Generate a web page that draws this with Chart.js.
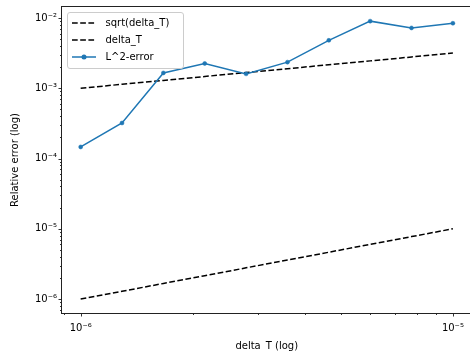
<!DOCTYPE html>
<html>
<head>
<meta charset="utf-8">
<script src="https://cdn.jsdelivr.net/npm/chart.js@4"></script>
<style>
  html, body { margin: 0; padding: 0; overflow: hidden; background: #fff; }
  #wrap { width: 476px; height: 358px; }
</style>
</head>
<body>
<div id="wrap"><canvas id="errChart" width="476" height="358"></canvas></div>
<script>
// delta_T values (log spaced, 1e-6 .. 1e-5)
var deltaT = [1.0e-6, 1.2915e-6, 1.6681e-6, 2.1544e-6, 2.7826e-6, 3.5938e-6, 4.6416e-6, 5.9948e-6, 7.7426e-6, 1.0e-5];
// reference lines
var sqrtDeltaT = [1.0e-3, 1.1365e-3, 1.2915e-3, 1.4678e-3, 1.6681e-3, 1.8957e-3, 2.1544e-3, 2.4484e-3, 2.7826e-3, 3.1623e-3];
var deltaTLine = [1.0e-6, 1.2915e-6, 1.6681e-6, 2.1544e-6, 2.7826e-6, 3.5938e-6, 4.6416e-6, 5.9948e-6, 7.7426e-6, 1.0e-5];
var l2Error = [1.46e-4, 3.2e-4, 1.65e-3, 2.25e-3, 1.6e-3, 2.35e-3, 4.8e-3, 9.0e-3, 7.2e-3, 8.4e-3];

var seriesLabels = ["sqrt(delta_T)", "delta_T", "L^2-error"];

// tick labels
var xMajor = [1e-6, 1e-5];
var xMajorLabels = ["10\u207B\u2076", "10\u207B\u2075"];
var yMajor = [1e-6, 1e-5, 1e-4, 1e-3, 1e-2];
var yMajorLabels = ["10\u207B\u2076", "10\u207B\u2075", "10\u207B\u2074", "10\u207B\u00B3", "10\u207B\u00B2"];

var xRange = [8.91e-7, 1.122e-5];
var yRange = [6.34e-7, 1.43e-2];

function pts(xs, ys) {
    return xs.map(function (x, i) { return { x: x, y: ys[i] }; });
}

function logTicks(min, max) {
    var out = [];
    for (var e = Math.floor(Math.log10(min)); e <= Math.ceil(Math.log10(max)); e++) {
        for (var m = 1; m <= 9; m++) {
            var v = m * Math.pow(10, e);
            if (v >= min && v <= max) out.push({ value: v, major: m === 1 });
        }
    }
    return out;
}

function labelFor(value, majors, labels) {
    for (var i = 0; i < majors.length; i++) {
        if (Math.abs(value / majors[i] - 1) < 1e-6) return labels[i];
    }
    return "";
}

var font = { family: "DejaVu Sans", size: 10 };

// axes box and tick marks, matplotlib style
var axesPlugin = {
    id: "axesBox",
    afterDraw: function (chart) {
        var ctx = chart.ctx, a = chart.chartArea;
        var sx = chart.scales.x, sy = chart.scales.y;
        ctx.save();
        ctx.strokeStyle = "#000";
        ctx.lineWidth = 0.8;
        ctx.beginPath();
        sx.ticks.forEach(function (t) {
            var px = Math.round(sx.getPixelForValue(t.value)) + 0.5;
            ctx.moveTo(px, a.bottom);
            ctx.lineTo(px, a.bottom + (t.major ? 3.5 : 2));
        });
        sy.ticks.forEach(function (t) {
            var py = Math.round(sy.getPixelForValue(t.value)) + 0.5;
            ctx.moveTo(a.left, py);
            ctx.lineTo(a.left - (t.major ? 3.5 : 2), py);
        });
        ctx.stroke();
        ctx.lineWidth = 1;
        ctx.strokeStyle = "#222";
        ctx.strokeRect(Math.round(a.left) - 0.5, Math.round(a.top) - 0.5,
            Math.round(a.right - a.left) + 1, Math.round(a.bottom - a.top) + 1);
        ctx.restore();
    }
};

// legend in upper left corner, matplotlib style
var legendPlugin = {
    id: "mplLegend",
    afterDraw: function (chart) {
        var ctx = chart.ctx, a = chart.chartArea;
        var bx = a.left + 5, by = a.top + 5, bw = 116, bh = 56;
        ctx.save();
        ctx.fillStyle = "rgba(255,255,255,0.8)";
        ctx.strokeStyle = "#cccccc";
        ctx.lineWidth = 1;
        ctx.beginPath();
        ctx.roundRect(bx + 0.5, by + 0.5, bw, bh, 2.5);
        ctx.fill();
        ctx.stroke();
        chart.data.datasets.forEach(function (ds, i) {
            var ry = by + 11 + i * 17;
            ctx.strokeStyle = ds.borderColor;
            ctx.lineWidth = ds.borderWidth;
            ctx.setLineDash(ds.borderDash || []);
            ctx.beginPath();
            ctx.moveTo(bx + 5, ry);
            ctx.lineTo(bx + 29, ry);
            ctx.stroke();
            ctx.setLineDash([]);
            if (ds.pointRadius > 0) {
                ctx.fillStyle = ds.borderColor;
                ctx.beginPath();
                ctx.arc(bx + 17, ry, ds.pointRadius + 0.5, 0, Math.PI * 2);
                ctx.fill();
            }
            ctx.fillStyle = "#000";
            ctx.font = "10px 'DejaVu Sans'";
            ctx.textBaseline = "middle";
            ctx.textAlign = "left";
            ctx.fillText(ds.label, bx + 38.5, ry);
        });
        ctx.restore();
    }
};

var ctx = document.getElementById("errChart").getContext("2d");

var errChart = new Chart(ctx, {
    type: "scatter",
    data: {
        datasets: [
            {
                label: seriesLabels[0],
                data: pts(deltaT, sqrtDeltaT),
                showLine: true,
                borderColor: "#000000",
                borderWidth: 1.5,
                borderDash: [5.7, 2.5],
                pointRadius: 0,
                order: 2,
            },
            {
                label: seriesLabels[1],
                data: pts(deltaT, deltaTLine),
                showLine: true,
                borderColor: "#000000",
                borderWidth: 1.5,
                borderDash: [5.7, 2.5],
                pointRadius: 0,
                order: 1,
            },
            {
                label: seriesLabels[2],
                data: pts(deltaT, l2Error),
                showLine: true,
                borderColor: "#1f77b4",
                backgroundColor: "#1f77b4",
                borderWidth: 1.5,
                pointRadius: 2,
                pointBorderWidth: 0.5,
                order: 0,
            },
        ],
    },
    options: {
        responsive: false,
        animation: false,
        devicePixelRatio: 1,
        layout: { padding: { left: 0, top: 7, right: 2, bottom: 0 } },
        plugins: {
            legend: { display: false },
            tooltip: { enabled: false },
        },
        scales: {
            x: {
                type: "logarithmic",
                min: xRange[0],
                max: xRange[1],
                grid: { display: false, drawTicks: false },
                border: { display: false },
                afterBuildTicks: function (scale) {
                    scale.ticks = logTicks(xRange[0], xRange[1]);
                },
                afterFit: function (scale) {
                    scale.height = 45;
                    scale.paddingLeft = 0;
                    scale.paddingRight = 0;
                },
                ticks: {
                    autoSkip: false,
                    maxRotation: 0,
                    padding: 9,
                    color: "#000",
                    font: font,
                    callback: function (value) {
                        return labelFor(value, xMajor, xMajorLabels);
                    },
                },
                title: {
                    display: true,
                    text: "delta_T (log)",
                    color: "#000",
                    font: font,
                    padding: { top: 0, bottom: 6 },
                },
            },
            y: {
                type: "logarithmic",
                min: yRange[0],
                max: yRange[1],
                grid: { display: false, drawTicks: false },
                border: { display: false },
                afterBuildTicks: function (scale) {
                    scale.ticks = logTicks(yRange[0], yRange[1]);
                },
                afterFit: function (scale) {
                    scale.width = 62;
                    scale.paddingTop = 0;
                    scale.paddingBottom = 0;
                },
                ticks: {
                    autoSkip: false,
                    padding: 5,
                    color: "#000",
                    font: font,
                    callback: function (value) {
                        return labelFor(value, yMajor, yMajorLabels);
                    },
                },
                title: {
                    display: true,
                    text: "Relative error (log)",
                    color: "#000",
                    font: font,
                    padding: { top: 9, bottom: 0 },
                },
            },
        },
    },
    plugins: [axesPlugin, legendPlugin],
});
</script>
</body>
</html>
